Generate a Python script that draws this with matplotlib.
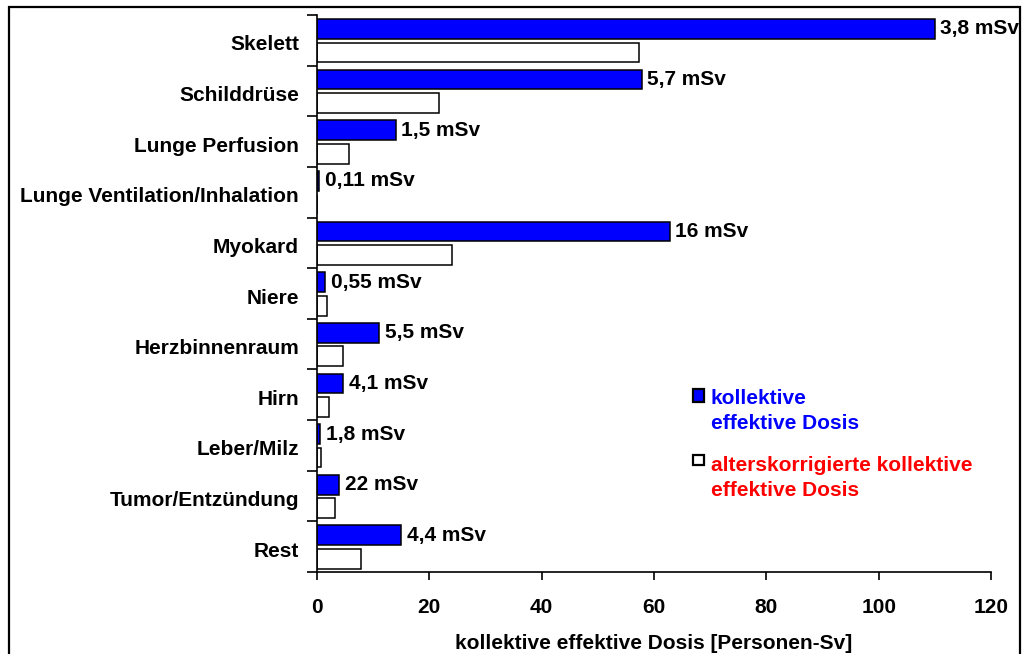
import matplotlib.pyplot as plt
import numpy as np
from matplotlib.patches import Rectangle

plt.rcParams['font.family'] = ['Liberation Sans', 'DejaVu Sans']
plt.rcParams['font.weight'] = 'bold'

organe = ['Skelett', 'Schilddrüse', 'Lunge Perfusion', 'Lunge Ventilation/Inhalation',
          'Myokard', 'Niere', 'Herzbinnenraum', 'Hirn', 'Leber/Milz',
          'Tumor/Entzündung', 'Rest']
kollektiv = [110.0, 57.8, 14.0, 0.4, 62.8, 1.5, 11.1, 4.7, 0.55, 4.0, 15.0]
alterskorr = [57.3, 21.8, 5.7, 0.05, 24.0, 1.8, 4.7, 2.2, 0.75, 3.2, 7.9]
dosis_pro_unters = ['3,8 mSv', '5,7 mSv', '1,5 mSv', '0,11 mSv', '16 mSv', '0,55 mSv',
                    '5,5 mSv', '4,1 mSv', '1,8 mSv', '22 mSv', '4,4 mSv']
xticks = [0, 20, 40, 60, 80, 100, 120]

FS = 15

fig = plt.figure(figsize=(10.24, 6.54), dpi=100)
ax = fig.add_axes([317 / 1024, 1 - 572 / 654, 674 / 1024, 557 / 654])

y = np.arange(len(organe))
h = 0.39
ax.barh(y - 0.225, kollektiv, height=h, color='#0000ff', edgecolor='black', linewidth=1.1)
ax.barh(y + 0.24, alterskorr, height=h, color='white', edgecolor='black', linewidth=1.1)

for yi, v, txt in zip(y, kollektiv, dosis_pro_unters):
    ax.annotate(txt, (v, yi - 0.225), xytext=(4, 0), textcoords='offset points',
                va='center', ha='left', fontsize=FS, fontweight='bold',
                annotation_clip=False)

ax.set_xlim(0, 120)
ax.set_ylim(len(organe) - 0.5, -0.5)
ax.set_xticks(xticks)
ax.set_xticklabels([str(t) for t in xticks], fontsize=FS, fontweight='bold')
ax.set_yticks(np.arange(len(organe) + 1) - 0.5)
ax.set_yticklabels([])
ax.set_yticks(y + 0.05, minor=True)
ax.set_yticklabels(organe, minor=True, fontsize=FS, fontweight='bold')
ax.tick_params(axis='y', which='major', direction='out', length=7, width=1.2)
ax.tick_params(axis='y', which='minor', length=0, pad=13)
ax.tick_params(axis='x', direction='out', length=6, width=1.2, pad=13)
ax.set_xlabel('kollektive effektive Dosis [Personen-Sv]', fontsize=FS,
              fontweight='bold', labelpad=12)

for s in ['top', 'right']:
    ax.spines[s].set_visible(False)
for s in ['left', 'bottom']:
    ax.spines[s].set_linewidth(1.2)

# Legende
W, H = 1024, 654
fig.patches.append(Rectangle((693 / W, 1 - 402 / H), 11 / W, 13 / H, transform=fig.transFigure,
                             facecolor='#0000ff', edgecolor='black', linewidth=1.6))
fig.patches.append(Rectangle((693 / W, 1 - 465 / H), 11 / W, 10 / H, transform=fig.transFigure,
                             facecolor='white', edgecolor='black', linewidth=1.6))
fig.text(711 / W, 1 - 389 / H, 'kollektive\neffektive Dosis', color='#0000ff',
         fontsize=FS, fontweight='bold', va='top', ha='left', linespacing=1.38)
fig.text(711 / W, 1 - 456 / H, 'alterskorrigierte kollektive\neffektive Dosis', color='#ff0000',
         fontsize=FS, fontweight='bold', va='top', ha='left', linespacing=1.38)

# Rahmen um die Grafik
fig.patches.append(Rectangle((9 / W, -0.05), 1011 / W, 1.05 - 7 / H, transform=fig.transFigure,
                             fill=False, edgecolor='black', linewidth=1.6))

fig.savefig('out.png', dpi=100)
